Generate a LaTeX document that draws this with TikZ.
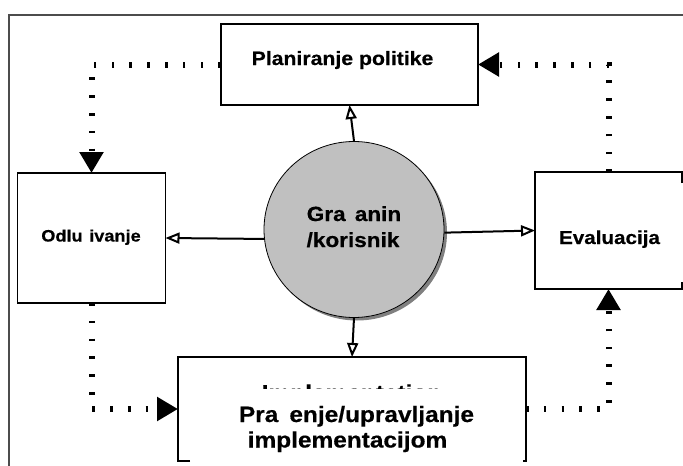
\documentclass[tikz,border=0pt]{standalone}
\usepackage{fontspec}
\setmainfont{Liberation Sans}[FakeStretch=1.1, BoldFeatures={FakeBold=0.5}]
\usetikzlibrary{arrows.meta,shapes.geometric,shadows}
\definecolor{citizen}{HTML}{C0C0C0}
\definecolor{citizenshadow}{HTML}{808080}
\begin{document}
\begin{tikzpicture}[x=1pt,y=-1pt,
  boxnode/.style={inner sep=0pt, outer sep=0pt},
  boxline/.style={draw=black, line width=1.8pt},
  flow/.style={line width=2pt, -{Triangle[open,length=14pt,width=11pt]}},
  cycle/.style={line width=6pt, dash pattern=on 2.6pt off 15.2pt,
    -{Triangle[length=21pt,width=23pt]}},
  lbl/.style={anchor=base, inner sep=0pt}
]
\useasboundingbox (0,0) rectangle (683,466);

% outer frame
\draw[line width=2.6pt, black!70] (683,15) -- (9,15) -- (9,466);

% process boxes
\node[boxnode, boxline, minimum width=257pt, minimum height=81pt] (plan) at (349.5,64.5) {};
\node[boxnode, boxline, minimum width=148pt, minimum height=130pt] (odl) at (91.5,238) {};
\node[boxnode, minimum width=147pt, minimum height=117pt] (eval) at (608.5,230.5) {};
\node[boxnode, minimum width=348pt, minimum height=104pt] (impl) at (352,409) {};

\draw[boxline] ([yshift=-11pt]eval.north east) -- (eval.north east) -- (eval.north west)
  -- (eval.south west) -- (eval.south east) -- ([yshift=7pt]eval.south east);
\draw[boxline] ([xshift=12pt]impl.south west) -- (impl.south west) -- (impl.north west)
  -- (impl.north east) -- (impl.south east) -- ([xshift=-3pt]impl.south east);

% central actor
\node[ellipse, draw=black, line width=0.8pt, fill=citizen, minimum width=180pt,
  minimum height=176pt, inner sep=0pt,
  drop shadow={shadow xshift=3pt, shadow yshift=-3pt, fill=citizenshadow, opacity=1}]
  (ell) at (354,229.5) {};

% labels
\node[lbl, font=\bfseries\fontsize{19.3}{22}\selectfont] (tplan) at (342.5,65) {Planiranje politike};
\node[lbl, font=\bfseries\fontsize{20.5}{24}\selectfont] (tg1) at (354,221) {Gra\hspace{0.45em}anin};
\node[lbl, font=\bfseries\fontsize{20.5}{24}\selectfont] (tg2) at (353,247) {/korisnik};
\node[lbl, font=\bfseries\fontsize{16.5}{19}\selectfont] (todl) at (91,241.5) {Odlu\hspace{0.4em}ivanje};
\node[lbl, font=\bfseries\fontsize{18.75}{22}\selectfont] (teval) at (609.5,244) {Evaluacija};
\begin{scope}
  \clip (180,359) rectangle (524,388.5);
  \node[lbl, font=\bfseries\fontsize{22.2}{26}\selectfont] (thid) at (352,400.5) {Implementation};
\end{scope}
\node[lbl, font=\bfseries\fontsize{22.2}{26}\selectfont] (tpr1) at (356.5,422) {Pra\hspace{0.5em}enje/upravljanje};
\node[lbl, font=\bfseries\fontsize{22.2}{26}\selectfont] (tpr2) at (347.5,447.5) {implementacijom};

% influence of the citizen on each phase
\draw[flow] (ell.north) -- (plan.south);
\draw[flow] (ell.186) -- (odl.east);
\draw[flow] (ell.-2) -- (eval.west);
\draw[flow] (ell.south) -- (impl.north);

% policy cycle
\draw[cycle] (plan.west) -| (odl.north);
\draw[cycle] (odl.south) |- (impl.west);
\draw[cycle] (impl.east) -| (eval.south);
\draw[cycle] (eval.north) |- (plan.east);
\end{tikzpicture}
\end{document}
